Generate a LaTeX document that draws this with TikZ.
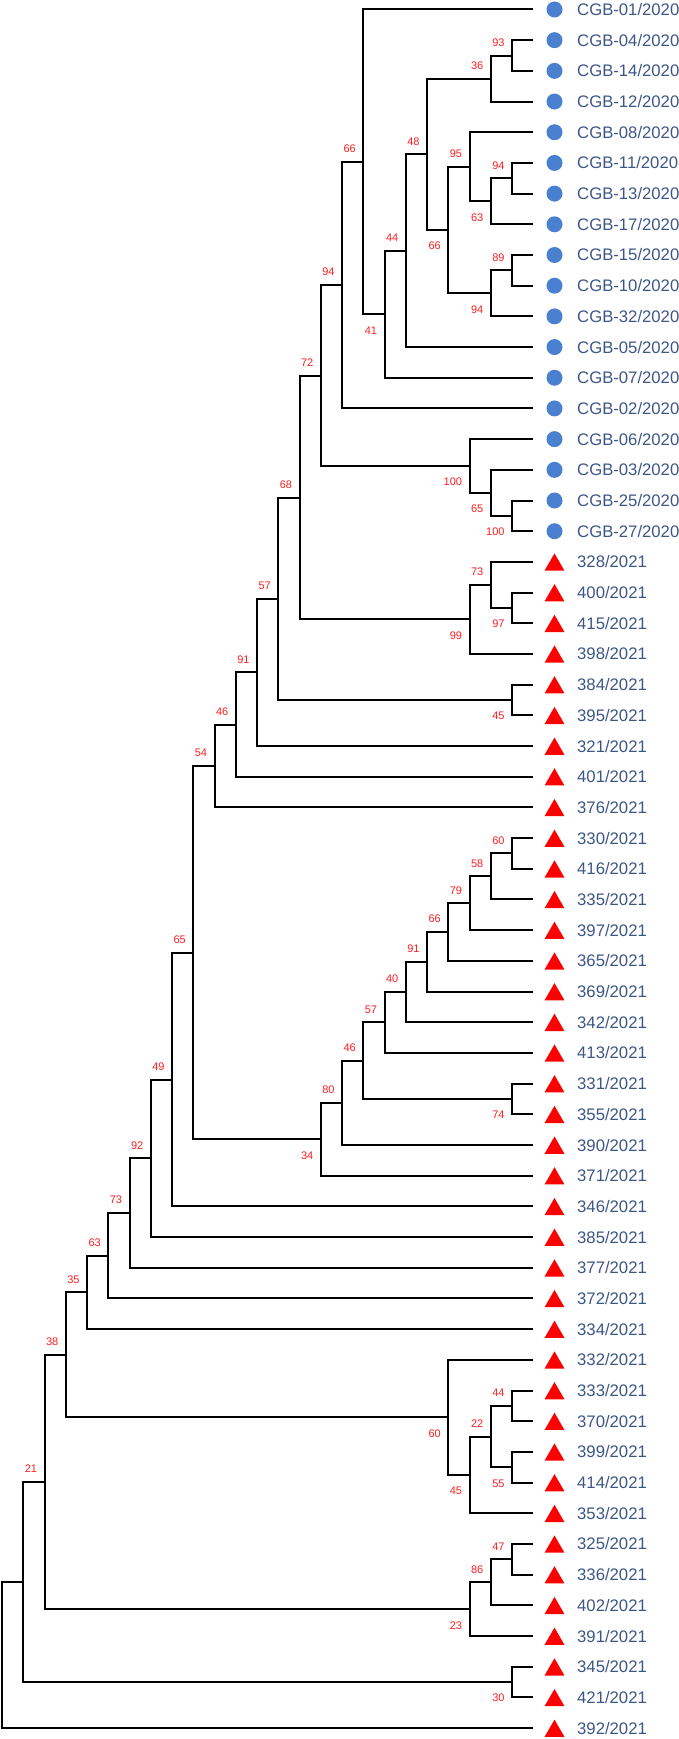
\documentclass[tikz,border=0pt]{standalone}
\usepackage{fontspec}
\setmainfont{Liberation Sans}
\usetikzlibrary{calc,shapes.geometric}

\definecolor{cgbblue}{RGB}{74,128,208}
\definecolor{labelblue}{RGB}{62,86,135}
\definecolor{bootred}{RGB}{255,30,30}

\newcommand{\leaffont}{\fontsize{16.7}{20}\selectfont}
\newcommand{\bootfont}{\fontsize{11}{13}\selectfont}

% clade: name, level, upper child, lower child
\newcommand{\clade}[4]{%
  \coordinate (mid-#1) at ($(#3)!0.5!(#4)$);
  \coordinate (#1) at (v#2 |- mid-#1);
  \draw[branch] (#3) -| (#1) |- (#4);
}

\tikzset{
  branch/.style={line width=2pt, draw=black},
  dot/.style={circle, fill=cgbblue, minimum size=16pt, inner sep=0pt},
  tri/.style={regular polygon, regular polygon sides=3, fill=red, minimum size=23pt, inner sep=0pt, yshift=-3pt},
  leaf/.style={anchor=base west, inner sep=0pt, text=labelblue, font=\leaffont},
  boot/.style={anchor=east, inner sep=0pt, text=bootred, font=\bootfont},
  bootup/.style={boot, xshift=-7.5pt, yshift=13pt},
  bootdown/.style={boot, xshift=-7.5pt, yshift=-16pt},
}

\begin{document}
\begin{tikzpicture}[x=1pt,y=1pt]
\useasboundingbox (0,0) rectangle (679,1739);

% levels
\foreach \k in {0,...,25}
   \coordinate (v\k) at ({2.2+21.25*\k},0);

% leaves
\foreach \n [count=\i from 0] in {01,04,14,12,08,11,13,17,15,10,32,05,07,02,06,03,25,27} {
   \coordinate (g\n) at (533,{1729.5-30.69*\i});
   \node[dot] (dot-g\n) at ([xshift=21.5pt]g\n) {};
   \node[leaf] (lab-g\n) at ([xshift=44pt,yshift=-6pt]g\n) {CGB-\n/2020};
}
\foreach \n [count=\i from 18] in {328,400,415,398,384,395,321,401,376,330,416,335,397,365,369,342,413,331,355,390,371,346,385,377,372,334,332,333,370,399,414,353,325,336,402,391,345,421,392} {
   \coordinate (t\n) at (533,{1729.5-30.69*\i});
   \node[tri] (tri-t\n) at ([xshift=21.5pt]t\n) {};
   \node[leaf] (lab-t\n) at ([xshift=44pt,yshift=-6pt]t\n) {\n/2021};
}

% CGB clades
\clade{n93}{24}{g04}{g14}
\clade{n36}{23}{n93}{g12}
\clade{n94a}{24}{g11}{g13}
\clade{n63}{23}{n94a}{g17}
\clade{n95}{22}{g08}{n63}
\clade{n89}{24}{g15}{g10}
\clade{n94b}{23}{n89}{g32}
\clade{n66b}{21}{n95}{n94b}
\clade{n48}{20}{n36}{n66b}
\clade{n44a}{19}{n48}{g05}
\clade{n41}{18}{n44a}{g07}
\clade{n66a}{17}{g01}{n41}
\clade{n94c}{16}{n66a}{g02}
\clade{n100b}{24}{g25}{g27}
\clade{n65a}{23}{g03}{n100b}
\clade{n100a}{22}{g06}{n65a}
\clade{n72}{15}{n94c}{n100a}

% 2021 clades
\clade{n97}{24}{t400}{t415}
\clade{n73a}{23}{t328}{n97}
\clade{n99}{22}{n73a}{t398}
\clade{n68}{14}{n72}{n99}
\clade{n45a}{24}{t384}{t395}
\clade{n57a}{13}{n68}{n45a}
\clade{n91a}{12}{n57a}{t321}
\clade{n46a}{11}{n91a}{t401}
\clade{n54}{10}{n46a}{t376}
\clade{n60a}{24}{t330}{t416}
\clade{n58}{23}{n60a}{t335}
\clade{n79}{22}{n58}{t397}
\clade{n66c}{21}{n79}{t365}
\clade{n91b}{20}{n66c}{t369}
\clade{n40}{19}{n91b}{t342}
\clade{n57b}{18}{n40}{t413}
\clade{n74}{24}{t331}{t355}
\clade{n46b}{17}{n57b}{n74}
\clade{n80}{16}{n46b}{t390}
\clade{n34}{15}{n80}{t371}
\clade{n65b}{9}{n54}{n34}
\clade{n49}{8}{n65b}{t346}
\clade{n92}{7}{n49}{t385}
\clade{n73b}{6}{n92}{t377}
\clade{n63b}{5}{n73b}{t372}
\clade{n35}{4}{n63b}{t334}
\clade{n44b}{24}{t333}{t370}
\clade{n55}{24}{t399}{t414}
\clade{n22}{23}{n44b}{n55}
\clade{n45b}{22}{n22}{t353}
\clade{n60b}{21}{t332}{n45b}
\clade{n38}{3}{n35}{n60b}
\clade{n47}{24}{t325}{t336}
\clade{n86}{23}{n47}{t402}
\clade{n23}{22}{n86}{t391}
\clade{n21}{2}{n38}{n23}
\clade{n30}{24}{t345}{t421}
\clade{nb}{1}{n21}{n30}
\clade{root}{0}{nb}{t392}

% bootstrap values
\foreach \c/\v in {n93/93, n36/36, n94a/94, n95/95, n89/89, n48/48, n44a/44, n66a/66, n94c/94, n72/72, n73a/73, n68/68, n57a/57, n91a/91, n46a/46, n54/54, n60a/60, n58/58, n79/79, n66c/66, n91b/91, n40/40, n57b/57, n46b/46, n80/80, n65b/65, n49/49, n92/92, n73b/73, n63b/63, n35/35, n44b/44, n22/22, n38/38, n47/47, n86/86, n21/21}
   \node[bootup] (bs-\c) at (\c) {\v};
\foreach \c/\v in {n63/63, n94b/94, n66b/66, n41/41, n100b/100, n65a/65, n100a/100, n97/97, n99/99, n45a/45, n74/74, n34/34, n55/55, n45b/45, n60b/60, n23/23, n30/30}
   \node[bootdown] (bs-\c) at (\c) {\v};
\end{tikzpicture}
\end{document}
